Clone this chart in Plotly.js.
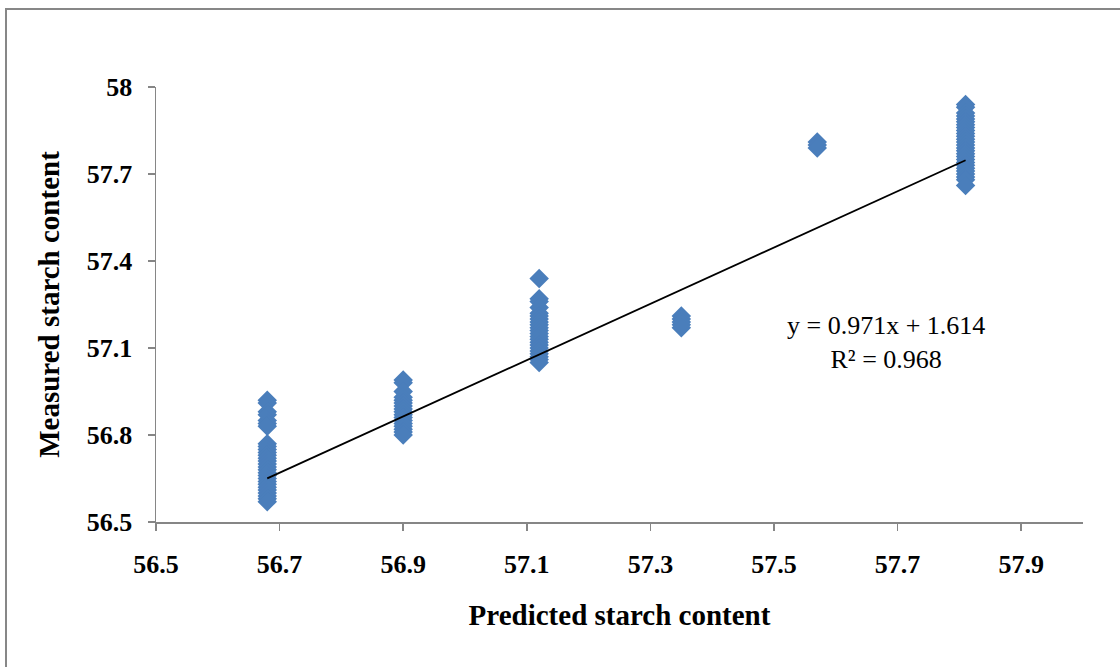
<!DOCTYPE html>
<html>
<head>
<meta charset="utf-8">
<script src="https://cdn.plot.ly/plotly-3.0.1.min.js"></script>
<style>
  html, body { margin: 0; padding: 0; width: 1120px; height: 667px; overflow: hidden; background: #fff; }
  #chart { position: absolute; left: 0; top: 0; width: 1120px; height: 667px; }
  #frame { position: absolute; left: 5px; top: 8px; width: 1200px; height: 700px;
           border: 2.5px solid #878787; pointer-events: none; box-sizing: border-box; }
</style>
</head>
<body>
<div id="chart"></div>
<div id="frame"></div>
<script>
// Predicted starch content levels (x) and the measured values observed at each level (y)
const predictedLevels = [56.68, 56.90, 57.12, 57.35, 57.57, 57.81];

const measuredAt5668 = [56.92, 56.91, 56.88, 56.87, 56.85, 56.84, 56.83, 56.77, 56.76, 56.75,
                        56.74, 56.73, 56.72, 56.71, 56.70, 56.69, 56.68, 56.67, 56.66, 56.65,
                        56.64, 56.63, 56.62, 56.61, 56.60, 56.59, 56.58, 56.57];
const measuredAt5690 = [56.99, 56.98, 56.95, 56.93, 56.92, 56.91, 56.90, 56.89, 56.88, 56.87,
                        56.86, 56.85, 56.84, 56.83, 56.82, 56.81, 56.80];
const measuredAt5712 = [57.34, 57.27, 57.26, 57.24, 57.22, 57.21, 57.20, 57.19, 57.18, 57.17,
                        57.16, 57.15, 57.14, 57.13, 57.12, 57.11, 57.10, 57.09, 57.08, 57.07,
                        57.06, 57.05];
const measuredAt5735 = [57.21, 57.20, 57.19, 57.18, 57.17];
const measuredAt5757 = [57.81, 57.80, 57.79];
const measuredAt5781 = [57.94, 57.93, 57.91, 57.90, 57.89, 57.88, 57.87, 57.86, 57.85, 57.84,
                        57.83, 57.82, 57.81, 57.80, 57.79, 57.78, 57.77, 57.76, 57.75, 57.74,
                        57.73, 57.72, 57.71, 57.70, 57.69, 57.68, 57.66];

const measuredGroups = [measuredAt5668, measuredAt5690, measuredAt5712,
                        measuredAt5735, measuredAt5757, measuredAt5781];

// Linear trendline coefficients
const slope = 0.971;
const intercept = 1.614;
const rSquared = 0.968;

// Axis ticks
const xTicks = [56.5, 56.7, 56.9, 57.1, 57.3, 57.5, 57.7, 57.9];
const yTicks = [56.5, 56.8, 57.1, 57.4, 57.7, 58];

// Flatten the groups into scatter points
const xs = [], ys = [];
predictedLevels.forEach((px, i) => {
  measuredGroups[i].forEach(m => { xs.push(px); ys.push(m); });
});

const xMin = Math.min(...predictedLevels);
const xMax = Math.max(...predictedLevels);
const lineX = [xMin, xMax];
const lineY = lineX.map(v => slope * v + intercept);

const serif = 'Liberation Serif, "Times New Roman", serif';
const axisGray = '#868686';

const points = {
  type: 'scatter', mode: 'markers', x: xs, y: ys,
  marker: { symbol: 'diamond', size: 15, color: '#4a7ebb', line: { width: 0 } },
  hoverinfo: 'skip'
};
const trend = {
  type: 'scatter', mode: 'lines', x: lineX, y: lineY,
  line: { color: '#000', width: 1.8 }, hoverinfo: 'skip'
};

const layout = {
  width: 1120, height: 667,
  margin: { l: 156, r: 37, t: 87, b: 145 },
  paper_bgcolor: '#fff', plot_bgcolor: '#fff',
  showlegend: false, hovermode: false,
  font: { family: serif, color: '#000' },
  xaxis: {
    range: [56.5, 58.0], tickvals: xTicks, ticktext: xTicks.map(v => v.toFixed(1)),
    showgrid: false, zeroline: false, showline: true, linecolor: axisGray, linewidth: 1.5,
    ticks: 'outside', ticklen: 7, tickwidth: 1.5, tickcolor: axisGray,
    tickfont: { family: serif, size: 26, color: '#000', weight: 'bold' },
    ticklabelstandoff: 11,
    title: { text: '<b>Predicted starch content</b>', font: { family: serif, size: 29, color: '#000' }, standoff: 27 }
  },
  yaxis: {
    range: [56.5, 58.0], tickvals: yTicks, ticktext: yTicks.map(v => String(v)),
    showgrid: false, zeroline: false, showline: true, linecolor: axisGray, linewidth: 1.5,
    ticks: 'outside', ticklen: 7, tickwidth: 1.5, tickcolor: axisGray,
    tickfont: { family: serif, size: 26, color: '#000', weight: 'bold' },
    ticklabelstandoff: 10,
    title: { text: '<b>Measured starch content</b>', font: { family: serif, size: 29, color: '#000' }, standoff: 18 }
  },
  annotations: [{
    xref: 'x', yref: 'y', x: 57.682, y: 57.118, xanchor: 'center', yanchor: 'middle',
    showarrow: false, align: 'center',
    text: 'y = ' + slope.toFixed(3) + 'x + ' + intercept.toFixed(3) + '<br>R² = ' + rSquared.toFixed(3),
    font: { family: serif, size: 26, color: '#000' }
  }]
};

Plotly.newPlot('chart', [points, trend], layout, { staticPlot: true, displayModeBar: false });
</script>
</body>
</html>
